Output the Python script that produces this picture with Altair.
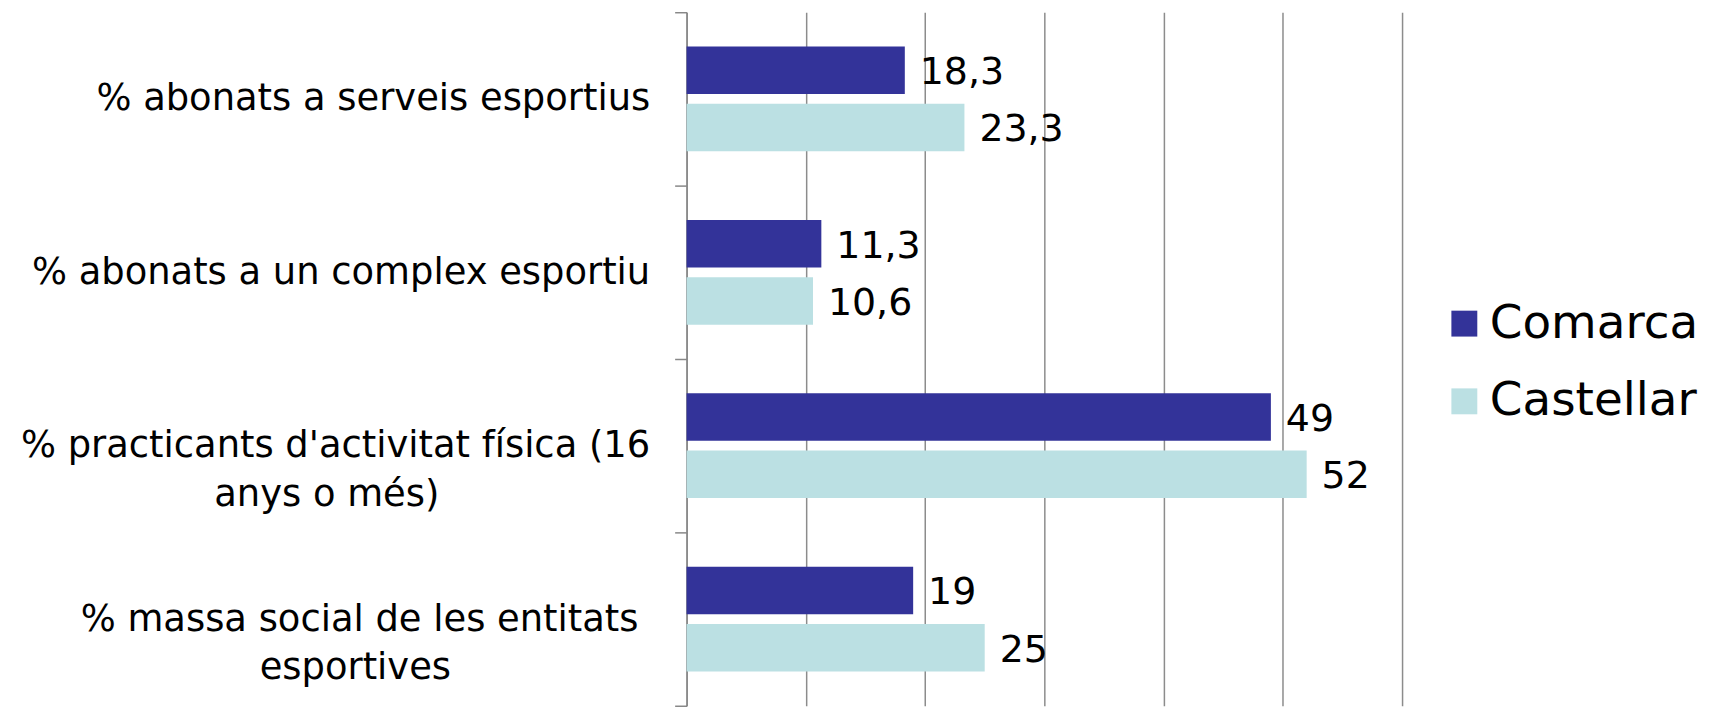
import altair as alt
import pandas as pd

NB = "\u00a0"
ZW = "\u200b"

categories = [
    "% abonats a serveis esportius",
    "% abonats a un complex esportiu",
    "% practicants d'activitat física (16|anys o més)" + NB * 18 + ZW,
    "% massa social de les entitats" + NB + ZW + "|esportives" + NB * 17 + ZW,
]
series = ["Comarca", "Castellar"]
comarca = [18.3, 11.3, 49, 19]
castellar = [23.3, 10.6, 52, 25]
colors = ["#333399", "#BBE0E3"]

rows = []
for c, a, b in zip(categories, comarca, castellar):
    for s, v in zip(series, [a, b]):
        lab = (f"{v:g}").replace(".", ",")
        rows.append({"cat": c, "serie": s, "value": v, "label": lab})
df = pd.DataFrame(rows)

FONT = "DejaVu Sans"

y_enc = alt.Y(
    "cat:N",
    sort=categories,
    title=None,
    scale=alt.Scale(paddingInner=0, paddingOuter=0),
    axis=alt.Axis(
        labelExpr="split(datum.label, '|')",
        labelFont=FONT,
        labelFontSize=37,
        labelColor="black",
        labelLineHeight=49,
        labelAlign="right",
        labelPadding=25,
        labelLimit=0,
        tickBand="extent",
        tickSize=12,
        tickColor="#888888",
        tickWidth=1.5,
        domainColor="#888888",
        domainWidth=1.5,
        grid=False,
    ),
)
yoff = alt.YOffset(
    "serie:N",
    sort=series,
    scale=alt.Scale(paddingInner=0.17, paddingOuter=0.6),
)
x_enc = alt.X(
    "value:Q",
    title=None,
    scale=alt.Scale(domain=[0, 60], nice=False),
    axis=alt.Axis(
        values=[0, 10, 20, 30, 40, 50, 60],
        labels=False,
        ticks=False,
        domain=False,
        grid=True,
        gridColor="#8c8c8c",
        gridWidth=1.5,
    ),
)

bars = alt.Chart(df).mark_bar(stroke=None).encode(
    y=y_enc,
    yOffset=yoff,
    x=x_enc,
    color=alt.Color(
        "serie:N",
        sort=series,
        scale=alt.Scale(domain=series, range=colors),
        legend=alt.Legend(
            title=None,
            orient="none",
            legendX=757,
            legendY=289,
            symbolType="square",
            symbolSize=676,
            symbolStrokeWidth=0,
            labelFont=FONT,
            labelFontSize=47,
            labelColor="black",
            labelOffset=2,
            rowPadding=30,
            padding=0,
            labelLimit=0,
        ),
    ),
)

texts = alt.Chart(df).mark_text(
    align="left", baseline="middle", dx=15, dy=3, font=FONT, fontSize=38, color="black"
).encode(
    y=alt.Y("cat:N", sort=categories),
    yOffset=alt.YOffset("serie:N", sort=series),
    x=alt.X("value:Q"),
    text="label:N",
)

chart = (
    alt.layer(bars, texts)
    .properties(
        width=718,
        height=696,
        autosize=alt.AutoSizeParams(type="none"),
        padding={"left": 681, "top": 3, "right": 301, "bottom": 0},
    )
    .configure_view(stroke=None)
)

chart.save("out.html", embed_options={"renderer": "svg", "actions": False})
